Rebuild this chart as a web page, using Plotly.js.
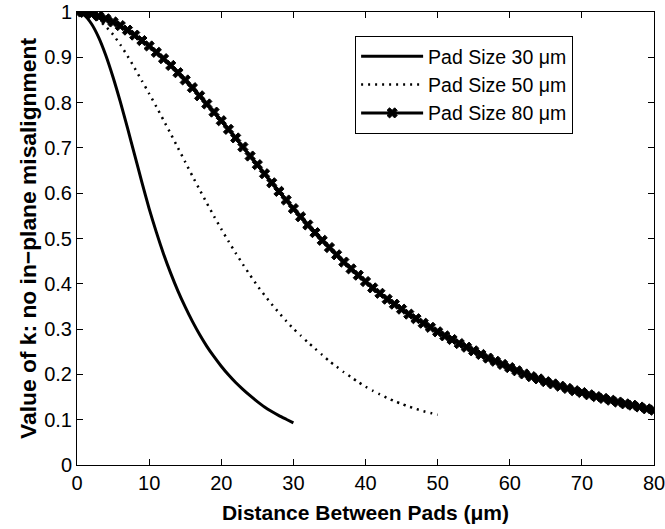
<!DOCTYPE html>
<html>
<head>
<meta charset="utf-8">
<script src="https://cdn.plot.ly/plotly-3.0.1.min.js"></script>
<style>html,body{margin:0;padding:0;background:#fff;}#chart{width:665px;height:529px;}</style>
</head>
<body>
<div id="chart"></div>
<script>
// Distance between pads (um) and value of k for each pad size
const x30 = [0,1,2,3,4,5,6,7,8,9,10,11,12,13,14,15,16,17,18,19,20,21,22,23,24,25,26,27,28,29,30];
const k30 = [1.000,0.993,0.974,0.944,0.904,0.856,0.802,0.744,0.684,0.624,0.566,0.514,0.466,0.423,0.384,0.349,0.317,0.288,0.262,0.239,0.218,0.199,0.182,0.167,0.153,0.140,0.128,0.118,0.109,0.101,0.093];

const x50 = [0,1,2,3,4,5,6,7,8,9,10,11,12,13,14,15,16,17,18,19,20,21,22,23,24,25,26,27,28,29,30,31,32,33,34,35,36,37,38,39,40,41,42,43,44,45,46,47,48,49,50];
const k50 = [1.000,0.998,0.992,0.982,0.968,0.950,0.928,0.903,0.876,0.848,
             0.820,0.791,0.761,0.731,0.700,0.669,0.638,0.608,0.578,0.549,
             0.521,0.494,0.468,0.443,0.419,0.396,0.375,0.355,0.336,0.318,
             0.301,0.286,0.271,0.257,0.243,0.229,0.217,0.205,0.194,0.183,
             0.173,0.164,0.156,0.148,0.141,0.135,0.129,0.124,0.119,0.115,
             0.111];

const x80 = [0,1,2,3,4,5,6,7,8,9,10,11,12,13,14,15,16,17,18,19,20,21,22,23,24,25,26,27,28,29,30,31,32,33,34,35,36,37,38,39,40,41,42,43,44,45,46,47,48,49,50,51,52,53,54,55,56,57,58,59,60,61,62,63,64,65,66,67,68,69,70,71,72,73,74,75,76,77,78,79,80];
const k80 = [1.000,0.999,0.996,0.991,0.985,0.978,0.970,0.960,0.949,0.937,
             0.925,0.911,0.897,0.882,0.866,0.850,0.833,0.815,0.797,0.779,
             0.760,0.741,0.722,0.702,0.682,0.663,0.643,0.623,0.604,0.585,
             0.566,0.548,0.530,0.513,0.496,0.480,0.464,0.448,0.433,0.419,
             0.405,0.391,0.379,0.366,0.355,0.344,0.333,0.323,0.313,0.304,
             0.294,0.285,0.277,0.268,0.260,0.252,0.244,0.236,0.229,0.222,
             0.215,0.208,0.201,0.195,0.190,0.184,0.179,0.174,0.169,0.164,
             0.160,0.155,0.151,0.147,0.143,0.139,0.135,0.132,0.128,0.124,
             0.121];

const names = ['Pad Size 30 \u03bcm','Pad Size 50 \u03bcm','Pad Size 80 \u03bcm'];
const xTicks = [0,10,20,30,40,50,60,70,80];
const yTicks = [0,0.1,0.2,0.3,0.4,0.5,0.6,0.7,0.8,0.9,1];
const yTickText = ['0','0.1','0.2','0.3','0.4','0.5','0.6','0.7','0.8','0.9','1'];

const traces = [
  {x:x30, y:k30, name:names[0], mode:'lines', line:{color:'#000', width:3, shape:'spline', smoothing:0.6}},
  {x:x50, y:k50, name:names[1], mode:'lines', line:{color:'#000', width:2.5, dash:'2px,5px', shape:'spline', smoothing:0.6}},
  {x:x80, y:k80, name:names[2], mode:'lines+markers', line:{color:'#000', width:3},
   marker:{symbol:'x', size:9, color:'#000', line:{color:'#000', width:1}}}
];

const fam = '"Liberation Sans", Arial, Helvetica, sans-serif';
const tickFont = {family:fam, size:20, color:'#000'};
const layout = {
  width:665, height:529,
  margin:{l:77, r:11, t:12, b:64},
  paper_bgcolor:'#fff', plot_bgcolor:'#fff',
  font:{family:fam, size:20, color:'#000'},
  showlegend:true,
  legend:{x:0.482, y:0.947, xanchor:'left', yanchor:'top', bordercolor:'#000', borderwidth:1,
          bgcolor:'#fff', font:{family:fam, size:19.5, color:'#000'}, itemwidth:62, tracegroupgap:0},
  xaxis:{range:[0,80], tickvals:xTicks, ticks:'inside', ticklen:6, tickcolor:'#000',
         showline:true, linecolor:'#000', linewidth:1, mirror:'ticks', showgrid:false, zeroline:false,
         tickfont:tickFont, ticklabeloverflow:'allow',
         title:{text:'<b>Distance Between Pads (\u03bcm)</b>', font:{family:fam, size:21, color:'#000'}, standoff:12}},
  yaxis:{range:[0,1], tickvals:yTicks, ticktext:yTickText, ticks:'inside', ticklen:6, tickcolor:'#000',
         showline:true, linecolor:'#000', linewidth:1, mirror:'ticks', showgrid:false, zeroline:false,
         tickfont:tickFont, ticklabeloverflow:'allow',
         title:{text:'<b>Value of k: no in\u2212plane misalignment</b>', font:{family:fam, size:22.8, color:'#000'}, standoff:1}}
};

Plotly.newPlot('chart', traces, layout, {displayModeBar:false, staticPlot:true});
</script>
</body>
</html>
